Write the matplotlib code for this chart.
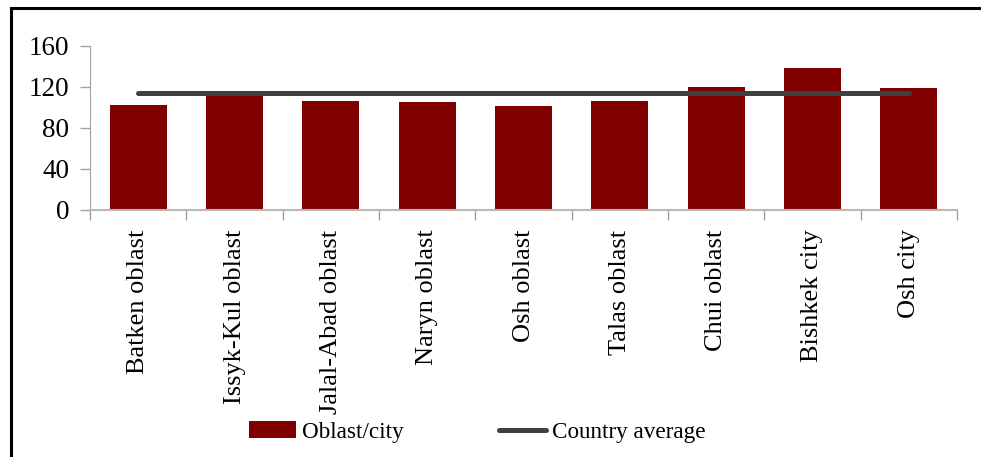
import numpy as np
import matplotlib.pyplot as plt
from matplotlib.lines import Line2D

plt.rcParams['font.family'] = ['Liberation Serif', 'DejaVu Serif']
plt.rcParams['font.size'] = 19

regions = ["Batken oblast", "Issyk-Kul oblast", "Jalal-Abad oblast", "Naryn oblast",
           "Osh oblast", "Talas oblast", "Chui oblast", "Bishkek city", "Osh city"]
oblast_values = [102.5, 111.5, 106.5, 105.5, 101.5, 106.5, 120, 138.5, 119]
country_average = [114] * 9

fig = plt.figure(figsize=(9.81, 4.57), dpi=100)
ax = fig.add_axes([90 / 981, 1 - 210 / 457, (957 - 90) / 981, (210 - 45.7) / 457])

x = np.arange(len(regions))
ax.bar(x, oblast_values, width=0.59, color="#800000", label="Oblast/city", zorder=2)
ax.plot(x, country_average, color="#404040", linewidth=3.6, solid_capstyle="round",
        label="Country average", zorder=3)

ax.set_xlim(-0.5, len(regions) - 0.5)
ax.set_ylim(0, 160)
ax.set_yticks([0, 40, 80, 120, 160])
ax.set_xticks(x)
ax.set_xticklabels(regions, rotation=90, fontsize=19)
ax.set_xticks(np.arange(-0.5, len(regions)), minor=True)
ax.tick_params(axis="x", which="major", length=0, pad=14)
ax.tick_params(axis="x", which="minor", length=7, color="#a0a0a0", width=1, direction="out")
ax.tick_params(axis="y", length=7, color="#a0a0a0", width=1, direction="out", pad=8,
               labelsize=19.5)
for s in ["top", "right"]:
    ax.spines[s].set_visible(False)
ax.spines["left"].set_color("#a0a0a0")
ax.spines["bottom"].set_color("#b8b8b8")
ax.spines["bottom"].set_linewidth(1.5)

handles, labels = ax.get_legend_handles_labels()
handles = [handles[1], handles[0]]
labels = [labels[1], labels[0]]
fig.legend(handles, labels, loc="center", bbox_to_anchor=(477 / 981, 1 - 432 / 457),
           ncol=2, frameon=False, handlelength=2.03, handleheight=0.73,
           handletextpad=0.26, columnspacing=4.1, fontsize=16.7)

# chart border (left and top only visible in the crop)
fig.add_artist(Line2D([11 / 981, 11 / 981], [0, 1 - 7.5 / 457], color="black",
                      linewidth=2.2, transform=fig.transFigure))
fig.add_artist(Line2D([11 / 981, 1], [1 - 7.5 / 457, 1 - 7.5 / 457], color="black",
                      linewidth=2.2, transform=fig.transFigure))

fig.savefig("out.png", dpi=100)
